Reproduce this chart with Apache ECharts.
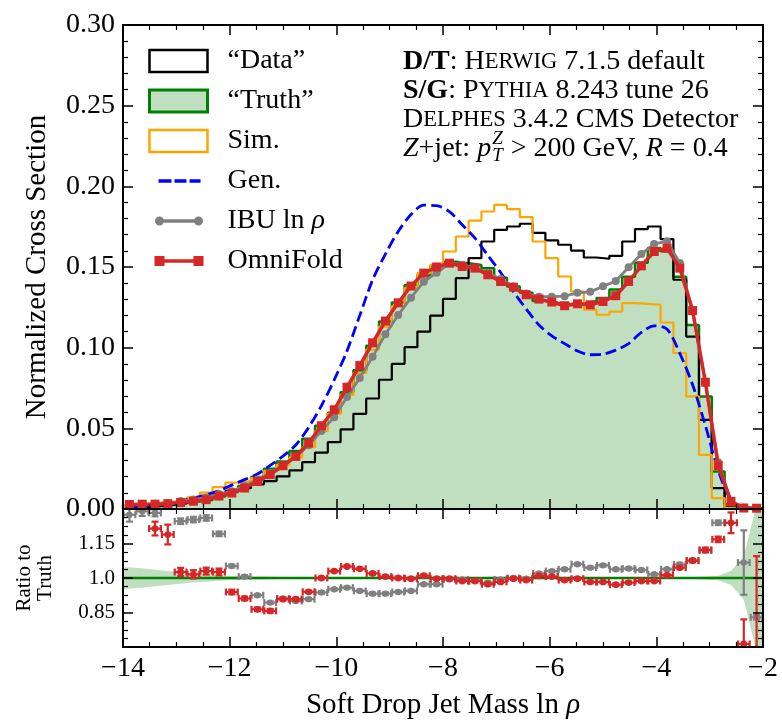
<!DOCTYPE html>
<html><head><meta charset="utf-8">
<script src="https://cdn.jsdelivr.net/npm/echarts@6/dist/echarts.min.js"></script>
<style>html,body{margin:0;padding:0;background:#fff}#c{width:782px;height:720px}</style>
</head><body><div id="c"></div>
<script>
// ---- binning ----
const xMin = -14, xMax = -2, binWidth = 0.24, nBins = 50;
const binEdges = Array.from({length: nBins + 1}, (_, i) => +(xMin + binWidth * i).toFixed(2));
const binCenters = Array.from({length: nBins}, (_, i) => +(xMin + binWidth * (i + 0.5)).toFixed(2));

// ---- main panel values ----
const truthHist = [
 0.0020,0.0021,0.0025,0.0028,0.0039,0.0047,0.0056,0.0078,0.0105,0.0143,
 0.0198,0.0249,0.0295,0.0359,0.0435,0.0516,0.0597,0.0724,0.0860,0.1012,
 0.1162,0.1280,0.1388,0.1448,0.1505,0.1532,0.1523,0.1513,0.1492,0.1434,
 0.1379,0.1340,0.1290,0.1278,0.1271,0.1276,0.1288,0.1308,0.1361,0.1439,
 0.1527,0.1617,0.1598,0.1440,0.1140,0.0698,0.0233,0.0030,0.0008,0.0004];
const omniFold = [
 0.0028,0.0030,0.0030,0.0033,0.0040,0.0048,0.0058,0.0080,0.0099,0.0130,
 0.0171,0.0213,0.0268,0.0326,0.0409,0.0516,0.0615,0.0755,0.0889,0.1030,
 0.1165,0.1278,0.1382,0.1462,0.1500,0.1524,0.1503,0.1493,0.1452,0.1410,
 0.1375,0.1328,0.1301,0.1283,0.1260,0.1272,0.1266,0.1286,0.1322,0.1410,
 0.1507,0.1596,0.1617,0.1493,0.1230,0.0786,0.0269,0.0047,0.0006,0.0005];
const ibu = [
 0.0026,0.0027,0.0032,0.0036,0.0049,0.0059,0.0071,0.0093,0.0110,0.0144,
 0.0183,0.0222,0.0269,0.0323,0.0395,0.0483,0.0568,0.0694,0.0812,0.0943,
 0.1083,0.1202,0.1310,0.1409,0.1464,0.1523,0.1514,0.1493,0.1462,0.1425,
 0.1379,0.1336,0.1316,0.1316,0.1319,0.1340,0.1346,0.1380,0.1413,0.1498,
 0.1580,0.1643,0.1659,0.1525,0.1226,0.0782,0.0289,0.0045,0.0009,0.0003];
const dataHist = [
 0.0008,0.0012,0.0018,0.0025,0.0035,0.0050,0.0068,0.0090,0.0112,0.0130,
 0.0152,0.0173,0.0202,0.0240,0.0290,0.0350,0.0414,0.0494,0.0590,0.0685,
 0.0801,0.0900,0.1003,0.1100,0.1198,0.1302,0.1431,0.1555,0.1658,0.1730,
 0.1751,0.1768,0.1712,0.1665,0.1638,0.1602,0.1559,0.1551,0.1569,0.1658,
 0.1735,0.1751,0.1673,0.1421,0.1069,0.0553,0.0130,0.0010,0.0002,0.0000];
const simHist = [
 0.0018,0.0022,0.0028,0.0041,0.0051,0.0072,0.0102,0.0135,0.0163,0.0175,
 0.0192,0.0236,0.0272,0.0318,0.0382,0.0482,0.0590,0.0708,0.0843,0.0987,
 0.1131,0.1258,0.1369,0.1462,0.1514,0.1596,0.1689,0.1788,0.1844,0.1885,
 0.1859,0.1809,0.1658,0.1555,0.1441,0.1348,0.1235,0.1204,0.1224,0.1276,
 0.1272,0.1266,0.1156,0.0967,0.0698,0.0336,0.0068,0.0005,0.0000,0.0000];
const genLine = [
 0.0013,0.0018,0.0025,0.0036,0.0050,0.0068,0.0088,0.0113,0.0148,0.0182,
 0.0217,0.0270,0.0328,0.0397,0.0505,0.0640,0.0800,0.0980,0.1200,0.1420,
 0.1580,0.1720,0.1825,0.1883,0.1880,0.1843,0.1762,0.1679,0.1572,0.1466,
 0.1347,0.1240,0.1140,0.1073,0.1025,0.0980,0.0956,0.0960,0.0985,0.1025,
 0.1095,0.1135,0.1115,0.0965,0.0770,0.0517,0.0240,0.0055,0.0004,0.0000];

// ---- ratio panel values ----
const ratioOF = [
 1.360,1.330,1.215,1.189,1.026,1.016,1.030,1.026,0.939,0.911,
 0.864,0.857,0.908,0.908,0.940,1.000,1.030,1.050,1.040,1.020,
 1.006,1.000,0.997,1.010,0.997,0.997,0.987,0.987,0.973,0.983,
 0.997,0.991,1.009,1.006,0.991,0.997,0.983,0.983,0.971,0.980,
 0.987,0.987,1.012,1.045,1.076,1.122,1.168,1.240,0.713,0.550];
const errOF = [
 0.030,0.030,0.030,0.043,0.018,0.018,0.015,0.015,0.010,0.008,
 0.008,0.008,0.006,0.006,0.005,0.005,0.005,0.005,0.005,0.005,
 0.005,0.005,0.005,0.005,0.005,0.005,0.005,0.005,0.005,0.005,
 0.005,0.005,0.005,0.005,0.005,0.005,0.005,0.005,0.005,0.005,
 0.005,0.005,0.005,0.006,0.007,0.010,0.012,0.045,0.107,0.545];
const ratioIBU = [
 1.275,1.290,1.283,1.330,1.247,1.254,1.261,1.192,1.052,1.006,
 0.925,0.893,0.911,0.900,0.908,0.937,0.951,0.958,0.944,0.932,
 0.932,0.939,0.944,0.973,0.973,0.994,0.994,0.987,0.980,0.994,
 1.000,0.997,1.020,1.030,1.038,1.060,1.045,1.055,1.038,1.041,
 1.035,1.016,1.038,1.059,1.075,1.120,1.240,1.360,1.067,0.829];
const errIBU = [
 0.030,0.020,0.015,0.020,0.012,0.012,0.012,0.010,0.006,0.006,
 0.005,0.005,0.005,0.005,0.005,0.005,0.005,0.005,0.005,0.005,
 0.005,0.005,0.005,0.005,0.005,0.005,0.005,0.005,0.005,0.005,
 0.005,0.005,0.005,0.005,0.005,0.005,0.005,0.005,0.005,0.005,
 0.005,0.005,0.005,0.007,0.007,0.008,0.010,0.050,0.140,0.010];
const bandHalf = [
 0.047,0.042,0.036,0.030,0.025,0.020,0.016,0.012,0.009,0.007,
 0.006,0.005,0.004,0.003,0.003,0.002,0.002,0.002,0.002,0.002,
 0.002,0.002,0.002,0.002,0.002,0.002,0.002,0.002,0.002,0.002,
 0.002,0.002,0.002,0.002,0.002,0.002,0.002,0.002,0.002,0.002,
 0.002,0.002,0.002,0.003,0.004,0.006,0.010,0.030,0.095,0.320];

// ---- tick labels / texts ----
const ratioTickLabels = {'0.85': '0.85', '1.00': '1.0', '1.15': '1.15'};
const seriesNames = ['\u201CData\u201D', '\u201CTruth\u201D', 'Sim.', 'Gen.', 'IBU ln \u03C1', 'OmniFold'];
const annotLines = [
  '{b|D/T}: H{sc|ERWIG} 7.1.5 default',
  '{b|S/G}: P{sc|YTHIA} 8.243 tune 26',
  'D{sc|ELPHES} 3.4.2 CMS Detector'
];

// ---- styling ----
const FF = '"Liberation Serif", "Times New Roman", serif';
const FA = 28;   // annotation
const FL = 28;   // legend
const FT = 28;   // tick labels
const FN = 29;   // axis titles
const FR = 21;   // ratio panel texts
const C = {truthFill: '#c0dfc0', truthEdge: '#008000', data: '#000000', sim: '#ffa500',
           gen: '#0000ff', ibu: '#808080', of: '#d62728'};

function stepData(vals) {
  const d = [[binEdges[0], 0]];
  vals.forEach((v, i) => d.push([binEdges[i], v]));
  d.push([binEdges[nBins], vals[nBins - 1]]);
  d.push([binEdges[nBins], 0]);
  return d;
}
const centerData = vals => binCenters.map((x, i) => [x, vals[i]]);

const halfBin = binWidth / 2;
function errRenderer(color, r, lw) {
  return function (params, api) {
    const x = api.value(0), y = api.value(1), e = api.value(2);
    const c = api.coord([x, y]);
    const l = api.coord([x - halfBin * 0.92, y]), rr = api.coord([x + halfBin * 0.92, y]);
    const u = api.coord([x, y + e]), d = api.coord([x, y - e]);
    const cap = 3.5;
    const st = {stroke: color, lineWidth: lw};
    return {type: 'group', children: [
      {type: 'line', shape: {x1: l[0], y1: c[1], x2: rr[0], y2: c[1]}, style: st},
      {type: 'line', shape: {x1: l[0], y1: c[1] - cap, x2: l[0], y2: c[1] + cap}, style: st},
      {type: 'line', shape: {x1: rr[0], y1: c[1] - cap, x2: rr[0], y2: c[1] + cap}, style: st},
      {type: 'line', shape: {x1: c[0], y1: u[1], x2: c[0], y2: d[1]}, style: st},
      {type: 'line', shape: {x1: c[0] - cap, y1: u[1], x2: c[0] + cap, y2: u[1]}, style: st},
      {type: 'line', shape: {x1: c[0] - cap, y1: d[1], x2: c[0] + cap, y2: d[1]}, style: st},
      {type: 'circle', shape: {cx: c[0], cy: c[1], r: r}, style: {fill: color}}
    ]};
  };
}
function bandRenderer(params, api) {
  const xs = [xMin].concat(binCenters, [xMax]);
  const hs = [bandHalf[0]].concat(bandHalf, [bandHalf[nBins - 1]]);
  const up = xs.map((x, i) => api.coord([x, 1 + hs[i]]));
  const lo = xs.map((x, i) => api.coord([x, 1 - hs[i]])).reverse();
  return {type: 'polygon', shape: {points: up.concat(lo)}, style: {fill: C.truthFill}};
}

const tickCommon = () => ({
  axisLine: {show: true, onZero: false, lineStyle: {color: '#000', width: 2}},
  axisTick: {show: true, inside: true, length: 10, lineStyle: {color: '#000', width: 1.5}},
  splitLine: {show: false}, minorSplitLine: {show: false}, z: 10
});
const minor = n => ({minorTick: {show: true, splitNumber: n, length: 5, lineStyle: {color: '#000', width: 1.2}}});
function xAx(gridIndex, position, showLabel, extra) {
  return Object.assign({
    type: 'value', gridIndex, position, min: xMin, max: xMax, interval: 2,
    axisLabel: {show: showLabel, fontFamily: FF, fontSize: FT, color: '#000', margin: 8,
      formatter: v => (v < 0 ? '\u2212' : '') + Math.abs(v)},
  }, tickCommon(), minor(4), extra || {});
}

const ctx = document.createElement('canvas').getContext('2d');
function mw(font, s) { ctx.font = font; return ctx.measureText(s).width; }
const ax0 = 403;
const FSUB = 19;
const wA = mw('italic ' + FA + 'px "Liberation Serif"', 'Z') + mw(FA + 'px "Liberation Serif"', '+jet: ') +
           mw('italic ' + FA + 'px "Liberation Serif"', 'p');
const xSup = ax0 + wA + 1;
const wSup = Math.max(mw('italic ' + FSUB + 'px "Liberation Serif"', 'Z'), mw('italic ' + FSUB + 'px "Liberation Serif"', 'T'));

const richText = {
  b: {fontFamily: FF, fontSize: FA, fontWeight: 'bold', fill: '#000', color: '#000'},
  sc: {fontFamily: FF, fontSize: 22.5, fill: '#000', color: '#000'},
  i: {fontFamily: FF, fontSize: FA, fontStyle: 'italic', fill: '#000', color: '#000'}
};
const lineY = [62, 91, 120, 148.5];
const graphics = annotLines.map((t, i) => ({
  type: 'text', left: ax0, y: lineY[i], z: 20,
  style: {text: t, rich: richText, fontFamily: FF, fontSize: FA, fill: '#000', verticalAlign: 'middle', align: 'left'}
}));
graphics.push({type: 'text', left: ax0, y: lineY[3], z: 20,
  style: {text: '{i|Z}+jet: {i|p}', rich: richText, fontFamily: FF, fontSize: FA, fill: '#000', verticalAlign: 'middle'}});
graphics.push({type: 'text', left: xSup, y: lineY[3] - 10, z: 20,
  style: {text: 'Z', fontFamily: FF, fontSize: FSUB, fontStyle: 'italic', fill: '#000', verticalAlign: 'middle'}});
graphics.push({type: 'text', left: xSup, y: lineY[3] + 7, z: 20,
  style: {text: 'T', fontFamily: FF, fontSize: FSUB, fontStyle: 'italic', fill: '#000', verticalAlign: 'middle'}});
graphics.push({type: 'text', left: xSup + wSup + 1, y: lineY[3], z: 20,
  style: {text: ' > 200 GeV, {i|R} = 0.4', rich: richText, fontFamily: FF, fontSize: FA, fill: '#000', verticalAlign: 'middle'}});

const pad = 'M0,0L0.01,0M58,22L57.99,22';
const genIcon = 'path://' + pad + 'M9,9.3h13v3.4h-13zM25,9.3h12v3.4h-12zM40,9.3h11v3.4h-11z';
const ibuIcon = 'path://' + pad + 'M10,9.2h39v3.6h-39zM5.5,11a4.5,4.5 0 1,1 9,0a4.5,4.5 0 1,1 -9,0zM44.5,11a4.5,4.5 0 1,1 9,0a4.5,4.5 0 1,1 -9,0z';
const ofIcon = 'path://' + pad + 'M10,9.2h39v3.6h-39zM5,6h10v10h-10zM44,6h10v10h-10z';

const chart = echarts.init(document.getElementById('c'), null, {renderer: 'canvas'});
const option = {
  animation: false,
  backgroundColor: '#fff',
  textStyle: {fontFamily: FF},
  grid: [
    {left: 123, right: 19, top: 25, height: 484, outerBoundsMode: 'none'},
    {left: 123, right: 19, top: 509, height: 138, outerBoundsMode: 'none'}
  ],
  xAxis: [
    xAx(0, 'bottom', false),
    xAx(0, 'top', false),
    xAx(1, 'bottom', true, {name: 'Soft Drop Jet Mass ln {i|\u03C1}', nameLocation: 'middle', nameGap: 44,
      nameMoveOverlap: false,
      nameTextStyle: {fontFamily: FF, fontSize: FN, color: '#000', rich: {i: {fontFamily: FF, fontSize: FN, fontStyle: 'italic', color: '#000'}}}}),
    xAx(1, 'top', false)
  ],
  yAxis: [
    Object.assign({type: 'value', gridIndex: 0, position: 'left', min: 0, max: 0.3, interval: 0.05,
      name: 'Normalized Cross Section', nameLocation: 'middle', nameGap: 71, nameMoveOverlap: false,
      nameTextStyle: {fontFamily: FF, fontSize: FN, color: '#000'},
      axisLabel: {fontFamily: FF, fontSize: FT, color: '#000', margin: 8, formatter: v => v.toFixed(2)}},
      tickCommon(), minor(5)),
    Object.assign({type: 'value', gridIndex: 0, position: 'right', min: 0, max: 0.3, interval: 0.05,
      axisLabel: {show: false}}, tickCommon(), minor(5)),
    Object.assign({type: 'value', gridIndex: 1, position: 'left', min: 0.7, max: 1.3, interval: 0.15,
      name: 'Ratio to\nTruth', nameLocation: 'middle', nameGap: 67, nameMoveOverlap: false,
      nameTextStyle: {fontFamily: FF, fontSize: FR, lineHeight: 21, color: '#000', align: 'center'},
      axisLabel: {fontFamily: FF, fontSize: FR, color: '#000', margin: 8,
        formatter: v => ratioTickLabels[v.toFixed(2)] || ''}},
      tickCommon(), minor(4)),
    Object.assign({type: 'value', gridIndex: 1, position: 'right', min: 0.7, max: 1.3, interval: 0.15,
      axisLabel: {show: false}}, tickCommon(), minor(4))
  ],
  legend: {
    orient: 'vertical', left: 148, top: 47, padding: 0, itemWidth: 58, itemHeight: 22, itemGap: 12,
    selectedMode: false, symbolKeepAspect: true,
    textStyle: {fontFamily: FF, fontSize: FL, color: '#000', lineHeight: 22, padding: [0, 0, 0, 15],
      rich: {i: {fontFamily: FF, fontSize: FL, fontStyle: 'italic', color: '#000', lineHeight: 22}}},
    formatter: n => n === seriesNames[4] ? 'IBU ln {i|\u03C1}' : n,
    data: [
      {name: seriesNames[0], icon: 'rect', itemStyle: {color: '#fff', borderColor: C.data, borderWidth: 2.5}},
      {name: seriesNames[1], icon: 'rect', itemStyle: {color: C.truthFill, borderColor: C.truthEdge, borderWidth: 3}},
      {name: seriesNames[2], icon: 'rect', itemStyle: {color: '#fff', borderColor: C.sim, borderWidth: 2.5}},
      {name: seriesNames[3], icon: genIcon, itemStyle: {color: C.gen, borderWidth: 0}},
      {name: seriesNames[4], icon: ibuIcon, itemStyle: {color: C.ibu, borderWidth: 0}},
      {name: seriesNames[5], icon: ofIcon, itemStyle: {color: C.of, borderWidth: 0}}
    ]
  },
  graphic: graphics,
  series: [
    {name: seriesNames[1], type: 'line', xAxisIndex: 0, yAxisIndex: 0, step: 'end', symbol: 'none', z: 1,
     data: stepData(truthHist), lineStyle: {color: C.truthEdge, width: 2.5},
     itemStyle: {color: C.truthFill}, areaStyle: {color: C.truthFill, opacity: 1}},
    {name: seriesNames[0], type: 'line', xAxisIndex: 0, yAxisIndex: 0, step: 'end', symbol: 'none', z: 2,
     data: stepData(dataHist), lineStyle: {color: C.data, width: 2.2}, itemStyle: {color: C.data}},
    {name: seriesNames[2], type: 'line', xAxisIndex: 0, yAxisIndex: 0, step: 'end', symbol: 'none', z: 2,
     data: stepData(simHist), lineStyle: {color: C.sim, width: 2.2}, itemStyle: {color: C.sim}},
    {name: seriesNames[3], type: 'line', xAxisIndex: 0, yAxisIndex: 0, symbol: 'none', smooth: 0.3, z: 3,
     data: centerData(genLine), lineStyle: {color: C.gen, width: 2.8, type: [11, 5]}, itemStyle: {color: C.gen}},
    {name: seriesNames[4], type: 'line', xAxisIndex: 0, yAxisIndex: 0, symbol: 'circle', symbolSize: 8, z: 4,
     data: centerData(ibu), lineStyle: {color: C.ibu, width: 2.8}, itemStyle: {color: C.ibu}},
    {name: seriesNames[5], type: 'line', xAxisIndex: 0, yAxisIndex: 0, symbol: 'rect', symbolSize: 9, z: 5,
     data: centerData(omniFold), lineStyle: {color: C.of, width: 3.5}, itemStyle: {color: C.of}},
    // ratio panel
    {name: 'truthBand', type: 'custom', xAxisIndex: 2, yAxisIndex: 2, z: 1, clip: true,
     renderItem: bandRenderer, encode: {x: 0, y: 1}, data: [[xMin, 1]]},
    {name: 'unity', type: 'line', xAxisIndex: 2, yAxisIndex: 2, symbol: 'none', z: 2,
     data: [[xMin, 1], [xMax, 1]], lineStyle: {color: C.truthEdge, width: 2.5}},
    {name: 'ibuRatio', type: 'custom', xAxisIndex: 2, yAxisIndex: 2, z: 3, clip: true,
     renderItem: errRenderer(C.ibu, 3.2, 2.2), encode: {x: 0, y: 1},
     data: binCenters.map((x, i) => [x, ratioIBU[i], errIBU[i]])},
    {name: 'ofRatio', type: 'custom', xAxisIndex: 2, yAxisIndex: 2, z: 4, clip: true,
     renderItem: errRenderer(C.of, 3.4, 2.2), encode: {x: 0, y: 1},
     data: binCenters.map((x, i) => [x, ratioOF[i], errOF[i]])}
  ]
};
chart.setOption(option);
</script>
</body></html>
